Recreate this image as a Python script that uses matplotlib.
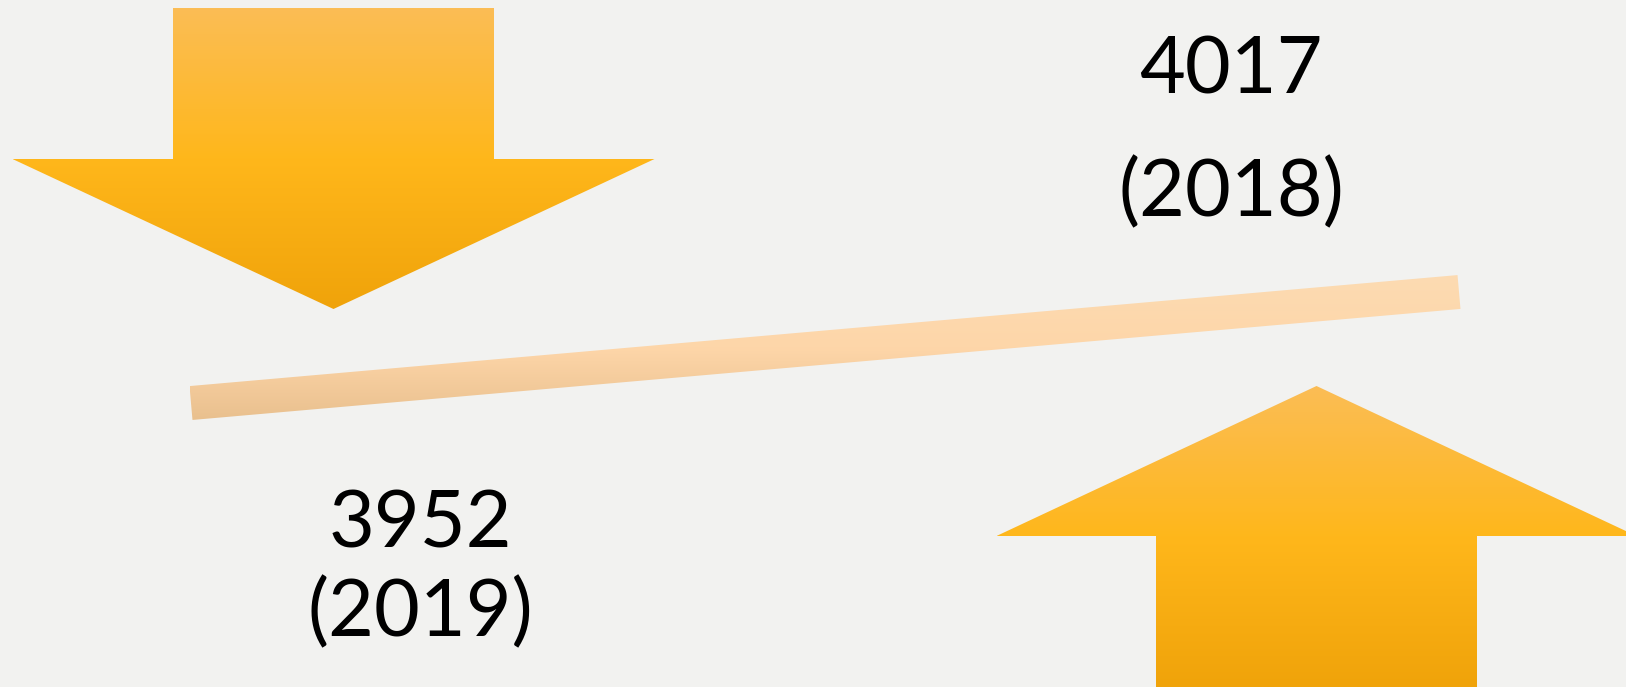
import numpy as np
import matplotlib.pyplot as plt
from matplotlib.path import Path
from matplotlib.patches import PathPatch
from matplotlib.colors import LinearSegmentedColormap

# data
years = [2019, 2018]
values = [3952, 4017]

W, H = 1626, 687
BG = "#f2f2f0"

fig = plt.figure(figsize=(W / 100, H / 100), dpi=100, facecolor=BG)

# pixel-space axes for decoration
ax = fig.add_axes([0, 0, 1, 1])
ax.set_xlim(0, W)
ax.set_ylim(H, 0)
ax.axis("off")
ax.set_facecolor(BG)

# value axes: maps the two values to the band ends
vax = fig.add_axes([0, 0, 1, 1], sharex=None)
vax.set_xlim(-191 / 1268, (W - 191) / 1268)
vax.set_ylim(3785.7, 4188.0)
vax.axis("off")
vax.patch.set_alpha(0)

arrow_cmap = LinearSegmentedColormap.from_list(
    "arrow", ["#fbbd55", "#ffb71b", "#f0a30a"])
band_cmap = LinearSegmentedColormap.from_list(
    "band", ["#fcdbb2", "#fed6a9", "#e9c08e"])


def gradient_fill(verts, cmap, y0, y1):
    path = Path(verts + [verts[0]], closed=True)
    patch = PathPatch(path, facecolor="none", edgecolor="none")
    ax.add_patch(patch)
    xs = [v[0] for v in verts]
    grad = np.linspace(0, 1, 256).reshape(-1, 1)
    im = ax.imshow(grad, cmap=cmap, aspect="auto",
                   extent=(min(xs), max(xs), y1, y0), zorder=2)
    im.set_clip_path(patch)


def arrow_verts(cx, tip_y, wing_y, base_y, head_half, shaft_half):
    return [(cx - shaft_half, base_y), (cx + shaft_half, base_y),
            (cx + shaft_half, wing_y), (cx + head_half, wing_y),
            (cx, tip_y), (cx - head_half, wing_y),
            (cx - shaft_half, wing_y)]


# down arrow (left) and up arrow (right)
down = arrow_verts(333.5, 309, 159, 8, 321, 160.5)
gradient_fill(down, arrow_cmap, 8, 309)
up = arrow_verts(1316.5, 386, 536, 700, 320, 160.5)
gradient_fill(up, arrow_cmap, 386, 687)

# thick band between the two values
fig.canvas.draw()
pts = vax.transData.transform(np.column_stack([[0, 1], values]))
pts = ax.transData.inverted().transform(pts)
(x0, y0), (x1, y1) = pts
d = np.array([x1 - x0, y1 - y0])
d = d / np.hypot(*d)
n = np.array([-d[1], d[0]]) * 17
band = [tuple(pts[0] + n), tuple(pts[1] + n), tuple(pts[1] - n), tuple(pts[0] - n)]
ys = [p[1] for p in band]
gradient_fill(band, band_cmap, min(ys), max(ys))

# labels
font = dict(family=["Lato", "DejaVu Sans"], fontsize=57, color="black",
            ha="center", va="baseline", zorder=5)
ax.text(1231, 93, f"{values[1]}", **font)
ax.text(1231, 216, f"({years[1]})", **font)
ax.text(420, 548, f"{values[0]}", **font)
ax.text(420, 636, f"({years[0]})", **font)

fig.savefig("out.png", dpi=100, facecolor=BG)
